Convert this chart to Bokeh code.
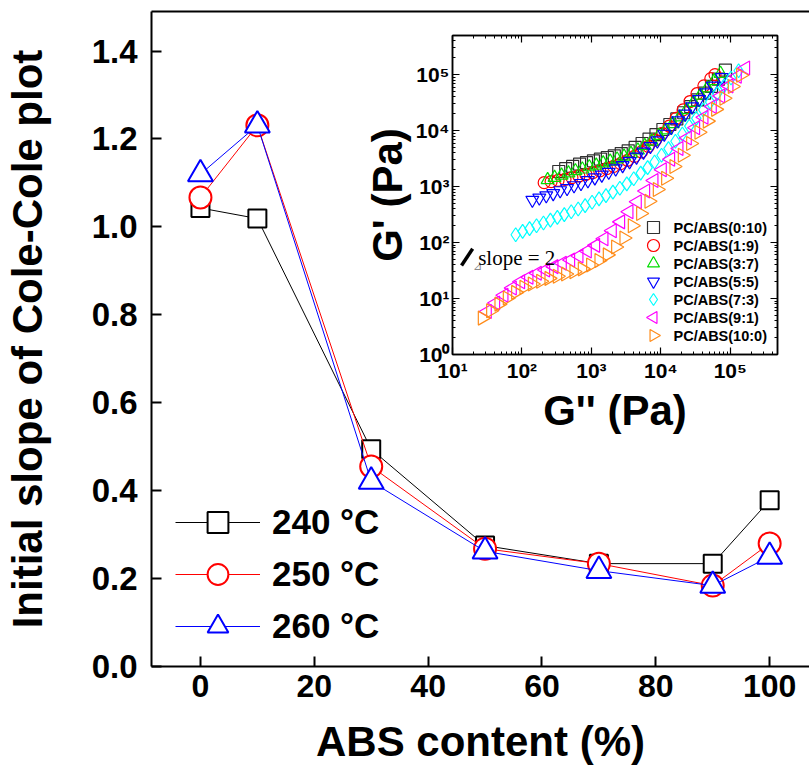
import numpy as np
from jinja2 import Template
from bokeh.plotting import figure
from bokeh.models import (LinearAxis, LogAxis, Legend, LegendItem, FixedTicker, FactorRange,
                          CustomJSTickFormatter, PrintfTickFormatter)
from bokeh.embed import file_html
from bokeh.resources import INLINE
from bokeh.core.properties import value

# ---------------- main chart data ----------------
abs_content = [0, 10, 30, 50, 70, 90, 100]
slope_240 = [1.043, 1.019, 0.494, 0.275, 0.234, 0.234, 0.378]
slope_250 = [1.067, 1.231, 0.455, 0.268, 0.234, 0.184, 0.280]
slope_260 = [1.120, 1.231, 0.421, 0.262, 0.218, 0.184, 0.250]
temp_labels = ["240 \u00b0C", "250 \u00b0C", "260 \u00b0C"]
x_ticks = [0, 20, 40, 60, 80, 100]
y_ticks = [0.0, 0.2, 0.4, 0.6, 0.8, 1.0, 1.2, 1.4]

# ---------------- inset data (log10 of G'' and G', Pa) ----------------
inset_labels = ["PC/ABS(0:10)", "PC/ABS(1:9)", "PC/ABS(3:7)", "PC/ABS(5:5)",
                "PC/ABS(7:3)", "PC/ABS(9:1)", "PC/ABS(10:0)"]
lg2_0_10 = [2.53, 2.63, 2.73, 2.83, 2.93, 3.03, 3.13, 3.23, 3.33, 3.43, 3.53, 3.63, 3.73,
            3.83, 3.93, 4.03, 4.13, 4.23, 4.33, 4.43, 4.53, 4.63, 4.73, 4.83, 4.93]
lg1_0_10 = [3.27, 3.32, 3.36, 3.40, 3.43, 3.46, 3.49, 3.52, 3.55, 3.59, 3.64, 3.70, 3.77,
            3.85, 3.93, 4.02, 4.11, 4.21, 4.32, 4.43, 4.55, 4.67, 4.79, 4.92, 5.08]
lg2_1_9 = [2.32, 2.42, 2.52, 2.62, 2.72, 2.82, 2.92, 3.02, 3.12, 3.22, 3.32, 3.42, 3.52,
           3.62, 3.72, 3.82, 3.92, 4.02, 4.12, 4.22, 4.32, 4.42, 4.52, 4.62, 4.72, 4.78]
lg1_1_9 = [3.07, 3.09, 3.11, 3.13, 3.16, 3.19, 3.22, 3.25, 3.28, 3.32, 3.36, 3.41, 3.47,
           3.54, 3.62, 3.72, 3.83, 3.95, 4.08, 4.22, 4.37, 4.52, 4.66, 4.80, 4.93, 5.00]
lg2_3_7 = [2.37, 2.47, 2.57, 2.67, 2.77, 2.87, 2.97, 3.07, 3.17, 3.27, 3.37, 3.47, 3.57,
           3.67, 3.77, 3.87, 3.97, 4.07, 4.17, 4.27, 4.37, 4.47, 4.57, 4.67, 4.77, 4.86]
lg1_3_7 = [3.12, 3.16, 3.20, 3.24, 3.28, 3.31, 3.35, 3.38, 3.42, 3.45, 3.49, 3.54, 3.59,
           3.65, 3.73, 3.81, 3.91, 4.01, 4.12, 4.24, 4.37, 4.50, 4.63, 4.76, 4.89, 5.02]
lg2_5_5 = [2.15, 2.25, 2.35, 2.45, 2.55, 2.65, 2.75, 2.85, 2.95, 3.05, 3.15, 3.25, 3.35, 3.45,
           3.55, 3.65, 3.75, 3.85, 3.95, 4.05, 4.15, 4.25, 4.35, 4.45, 4.55, 4.65, 4.75, 4.88]
lg1_5_5 = [2.76, 2.80, 2.84, 2.88, 2.93, 2.97, 3.02, 3.06, 3.11, 3.16, 3.21, 3.26, 3.32, 3.38,
           3.45, 3.53, 3.62, 3.72, 3.82, 3.94, 4.06, 4.18, 4.30, 4.43, 4.56, 4.68, 4.80, 4.95]
lg2_7_3 = [1.91, 2.01, 2.11, 2.21, 2.31, 2.41, 2.51, 2.61, 2.71, 2.81, 2.91, 3.01, 3.11, 3.21,
           3.31, 3.41, 3.51, 3.61, 3.71, 3.81, 3.91, 4.01, 4.11, 4.21, 4.31, 4.41, 4.51, 4.61,
           4.71, 4.81, 4.91, 5.01, 5.12]
lg1_7_3 = [2.14, 2.20, 2.25, 2.30, 2.35, 2.40, 2.45, 2.50, 2.55, 2.60, 2.66, 2.72, 2.78, 2.84,
           2.90, 2.97, 3.05, 3.14, 3.24, 3.34, 3.44, 3.56, 3.68, 3.81, 3.94, 4.08, 4.22, 4.37,
           4.51, 4.66, 4.80, 4.94, 5.07]
lg2_9_1 = [1.50, 1.62, 1.74, 1.86, 1.98, 2.10, 2.22, 2.34, 2.46, 2.58, 2.70, 2.82, 2.94, 3.06,
           3.18, 3.30, 3.42, 3.54, 3.66, 3.78, 3.90, 4.02, 4.14, 4.26, 4.38, 4.50, 4.62, 4.74,
           4.86, 4.98, 5.10, 5.22]
lg1_9_1 = [0.77, 0.92, 1.06, 1.19, 1.30, 1.38, 1.45, 1.51, 1.57, 1.63, 1.69, 1.76, 1.85, 1.95,
           2.07, 2.21, 2.37, 2.55, 2.73, 2.92, 3.11, 3.30, 3.49, 3.68, 3.87, 4.05, 4.24, 4.43,
           4.62, 4.80, 4.97, 5.12]
lg2_10_0 = [1.43, 1.55, 1.67, 1.79, 1.91, 2.03, 2.15, 2.27, 2.39, 2.51, 2.63, 2.75, 2.87, 2.99,
            3.11, 3.23, 3.35, 3.47, 3.59, 3.71, 3.83, 3.95, 4.07, 4.19, 4.31, 4.43, 4.55, 4.67,
            4.79, 4.91, 5.03, 5.15]
lg1_10_0 = [0.65, 0.78, 0.90, 1.01, 1.11, 1.20, 1.26, 1.31, 1.36, 1.40, 1.44, 1.48, 1.53, 1.60,
            1.68, 1.78, 1.92, 2.08, 2.30, 2.52, 2.74, 2.95, 3.15, 3.36, 3.56, 3.77, 3.97, 4.17,
            4.38, 4.58, 4.79, 4.99]
# slope = 2 guide (log10 coordinates)
slope_guide_lg2 = [1.13, 1.29]
slope_guide_lg1 = [1.59, 1.89]
slope_text = "slope = 2"

FONT = "Liberation Sans, Arial, sans-serif"
W, H = 809, 769

# ================= main figure =================
p = figure(width=W, height=H, output_backend="svg", toolbar_location=None, name="main",
           x_range=(-8.6, 107.0), y_range=(0, 1.49),
           min_border_left=151, min_border_right=0, min_border_top=11, min_border_bottom=103)
p.xgrid.visible = False
p.ygrid.visible = False
p.outline_line_color = None
p.background_fill_color = "white"
p.border_fill_color = "white"

series = [(slope_240, "black", "square", 18),
          (slope_250, "red", "circle", 22),
          (slope_260, "blue", "triangle", 25)]
items = []
for (vals, col, mk, sz), lab in zip(series, temp_labels):
    lr = p.line(abs_content, vals, line_color=col, line_width=1)
    sr = p.scatter(abs_content, vals, marker=mk, size=sz, line_color=col,
                   fill_color="white", line_width=2)
    items.append(LegendItem(label=lab, renderers=[lr, sr]))

leg = Legend(items=items, location=(24, 14), glyph_width=85, glyph_height=52,
             label_height=52, spacing=0, padding=0, margin=0, label_standoff=12,
             background_fill_alpha=0, border_line_color=None,
             label_text_font=FONT, label_text_font_style="bold",
             label_text_font_size="35px", label_text_color="black")
p.add_layout(leg)

for ax in (p.xaxis[0], p.yaxis[0]):
    ax.axis_line_width = 2
    ax.major_tick_line_width = 2
    ax.major_tick_in = 10
    ax.major_tick_out = 0
    ax.minor_tick_line_color = None
    ax.major_label_text_font = FONT
    ax.major_label_text_font_style = "bold"
    ax.major_label_text_font_size = "32px"
    ax.major_label_text_color = "black"
    ax.axis_label_text_font = FONT
    ax.axis_label_text_font_style = "bold"
    ax.axis_label_text_font_size = "42px"
    ax.axis_label_text_color = "black"
p.yaxis.major_label_text_font_size = "33px"
p.xaxis.ticker = FixedTicker(ticks=x_ticks)
p.yaxis.ticker = FixedTicker(ticks=y_ticks)
p.yaxis.formatter = PrintfTickFormatter(format="%.1f")
p.xaxis.axis_label = "ABS content (%)"
p.yaxis.axis_label = "Initial slope of Cole-Cole plot"
p.xaxis.major_label_standoff = 8
p.yaxis.major_label_standoff = 14
p.xaxis.axis_label_standoff = 18
p.yaxis.axis_label_standoff = 38

top_ax = LinearAxis(ticker=FixedTicker(ticks=[]), axis_line_width=2,
                    major_tick_line_color=None, minor_tick_line_color=None,
                    major_label_text_font_size="0px")
p.add_layout(top_ax, "above")

# ================= inset figure (overlaid) =================
q = figure(width=W, height=H, output_backend="svg", toolbar_location=None, name="inset",
           x_axis_type="log", y_axis_type="log",
           x_range=(10, 10 ** 5.68), y_range=(1, 10 ** 5.70),
           min_border_left=452, min_border_right=32, min_border_top=35, min_border_bottom=415)
q.xgrid.visible = False
q.ygrid.visible = False
q.background_fill_alpha = 0
q.border_fill_alpha = 0
q.outline_line_color = "black"
q.outline_line_width = 1.5

inset_series = [
    (lg2_0_10, lg1_0_10, "#303030", "square"),
    (lg2_1_9, lg1_1_9, "red", "circle"),
    (lg2_3_7, lg1_3_7, "#00dd00", "triangle"),
    (lg2_5_5, lg1_5_5, "blue", "inverted_triangle"),
    (lg2_7_3, lg1_7_3, "cyan", "diamond"),
    (lg2_9_1, lg1_9_1, "magenta", "triangle"),
    (lg2_10_0, lg1_10_0, "#ff8c1a", "triangle"),
]
angles = [0, 0, 0, 0, 0, np.pi / 2, -np.pi / 2]
sizes = [12, 12, 13, 13, 14, 14, 14]
for (xs, ys, col, mk), ang, sz in zip(inset_series, angles, sizes):
    q.scatter(10 ** np.array(xs), 10 ** np.array(ys), marker=mk, size=sz, angle=ang,
              line_color=col, fill_color=None, line_width=1.2)

q.segment(x0=[10 ** slope_guide_lg2[0]], y0=[10 ** slope_guide_lg1[0]],
          x1=[10 ** slope_guide_lg2[1]], y1=[10 ** slope_guide_lg1[1]],
          line_color="black", line_width=3.5)
q.text(x=[10 ** 1.29], y=[10 ** 1.59], text=["\u22bf"], text_font_size="11px",
       text_color="#888888", text_baseline="alphabetic")
q.text(x=[10 ** 1.37], y=[10 ** 1.72], text=[slope_text], text_font=value("Liberation Serif"),
       text_font_size="21px", text_baseline="alphabetic", text_color="black")

sup = CustomJSTickFormatter(code="""
const s = {'0':'\u2070','1':'\u00b9','2':'\u00b2','3':'\u00b3','4':'\u2074','5':'\u2075',
           '6':'\u2076','7':'\u2077','8':'\u2078','9':'\u2079','-':'\u207b'};
const e = Math.round(Math.log10(tick));
return '10' + String(e).split('').map(c => s[c]).join('');
""")
blank = CustomJSTickFormatter(code="return '';")
xmaj = [10, 100, 1000, 10000, 100000]
ymaj = [1, 10, 100, 1000, 10000, 100000]
xmin = [m * 10 ** k for k in range(1, 6) for m in range(2, 10)]
ymin = [m * 10 ** k for k in range(0, 6) for m in range(2, 10)]

def style_inset_axis(ax, labels=True):
    ax.axis_line_width = 1.5
    ax.major_tick_in = 7
    ax.major_tick_out = 0
    ax.minor_tick_in = 3
    ax.minor_tick_out = 0
    ax.major_tick_line_width = 1.2
    ax.minor_tick_line_width = 1
    ax.major_label_text_font = FONT
    ax.major_label_text_font_style = "bold"
    ax.major_label_text_font_size = "21px" if labels else "0px"
    ax.major_label_text_color = "black"
    ax.axis_label_text_font = FONT
    ax.axis_label_text_font_style = "bold"
    ax.axis_label_text_font_size = "42px"
    ax.axis_label_text_color = "black"

q.xaxis.ticker = FixedTicker(ticks=xmaj, minor_ticks=xmin)
q.yaxis.ticker = FixedTicker(ticks=ymaj, minor_ticks=ymin)
q.xaxis.formatter = sup
q.yaxis.formatter = sup
style_inset_axis(q.xaxis[0])
style_inset_axis(q.yaxis[0])
q.xaxis.axis_label = "G'' (Pa)"
q.yaxis.axis_label = "G' (Pa)"
q.xaxis.major_label_standoff = 4
q.yaxis.major_label_standoff = 3
q.xaxis.axis_label_standoff = 2
q.yaxis.axis_label_standoff = 2

ax_top = LogAxis(ticker=FixedTicker(ticks=xmaj, minor_ticks=xmin), formatter=blank)
ax_right = LogAxis(ticker=FixedTicker(ticks=ymaj, minor_ticks=ymin), formatter=blank)
style_inset_axis(ax_top, labels=False)
style_inset_axis(ax_right, labels=False)
q.add_layout(ax_top, "above")
q.add_layout(ax_right, "right")

# ================= inset legend (small overlaid figure, one row per series) =================
lf = figure(width=150, height=126, output_backend="svg", toolbar_location=None, name="ilegend",
            x_range=(0, 10), y_range=FactorRange(factors=list(reversed(inset_labels))),
            min_border=0)
lf.xaxis.visible = False
lf.yaxis.visible = False
lf.xgrid.visible = False
lf.ygrid.visible = False
lf.outline_line_color = None
lf.background_fill_alpha = 0
lf.border_fill_alpha = 0
for (xs, ys, col, mk), ang, lab in zip(inset_series, angles, inset_labels):
    lf.scatter(x=[1], y=[lab], marker=mk, size=12, angle=ang, line_color=col,
               fill_color=None, line_width=1.2)
lf.text(x=[1] * len(inset_labels), y=inset_labels, text=inset_labels, x_offset=20,
        text_baseline="middle", text_font=value(FONT), text_font_style="bold",
        text_font_size="14.5px", text_color="black")

page = Template("""{% from macros import embed %}
<!DOCTYPE html>
<html lang="en">
<head>
<meta charset="utf-8">
<title>Cole-Cole slope</title>
<style>html, body { margin: 0; padding: 0; background: white; }
.layer { position: absolute; left: 0; top: 0; width: 809px; height: 769px; }
.leglayer { position: absolute; left: 638px; top: 218px; width: 150px; height: 126px; }</style>
{{ bokeh_css }}
{{ bokeh_js }}
</head>
<body>
<div class="layer">{{ embed(roots.main) }}</div>
<div class="layer">{{ embed(roots.inset) }}</div>
<div class="leglayer">{{ embed(roots.ilegend) }}</div>
{{ plot_script }}
</body>
</html>
""")

open("out.html", "w").write(file_html((p, q, lf), INLINE, template=page))
